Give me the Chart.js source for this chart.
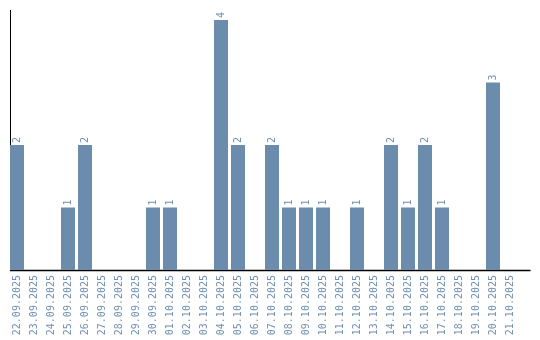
<!DOCTYPE html>
<html>
<head>
<meta charset="utf-8">
<script src="https://cdn.jsdelivr.net/npm/chart.js@4"></script>
<style>
  html, body { margin: 0; padding: 0; background: #fff; }
  #wrap { width: 540px; height: 340px; }
</style>
</head>
<body>
<div id="wrap"><canvas id="dayChart"></canvas></div>
<script>
const days = ["22.09.2025","23.09.2025","24.09.2025","25.09.2025","26.09.2025","27.09.2025","28.09.2025","29.09.2025","30.09.2025","01.10.2025","02.10.2025","03.10.2025","04.10.2025","05.10.2025","06.10.2025","07.10.2025","08.10.2025","09.10.2025","10.10.2025","11.10.2025","12.10.2025","13.10.2025","14.10.2025","15.10.2025","16.10.2025","17.10.2025","18.10.2025","19.10.2025","20.10.2025","21.10.2025"];
const counts = [2,0,0,1,2,0,0,0,1,1,0,0,4,2,0,2,1,1,1,0,1,0,2,1,2,1,0,0,3,0];

const barColor = '#6b8cad';
const textColor = '#6f8fb0';
const monoFont = "'DejaVu Sans Mono', monospace";

// axis lines: y axis sits on the first bar's left edge, x axis runs a bit past the last band
const axisLines = {
  id: 'axisLines',
  beforeDatasetsDraw(chart) {
    const { ctx, chartArea } = chart;
    const x0 = Math.round(chartArea.left + 1.5) + 0.5;
    const y0 = chartArea.bottom;
    ctx.save();
    ctx.strokeStyle = '#000';
    ctx.lineWidth = 1;
    ctx.beginPath();
    ctx.moveTo(x0, chartArea.top);
    ctx.lineTo(x0, y0);
    ctx.stroke();
    ctx.lineWidth = 1.5;
    ctx.beginPath();
    ctx.moveTo(x0 - 0.5, y0 + 0.5);
    ctx.lineTo(chartArea.right + 12, y0 + 0.5);
    ctx.stroke();
    ctx.restore();
  }
};

// draw the value above each non-zero bar, rotated like the axis labels
const valueLabels = {
  id: 'valueLabels',
  afterDatasetsDraw(chart) {
    const ctx = chart.ctx;
    const meta = chart.getDatasetMeta(0);
    ctx.save();
    ctx.fillStyle = textColor;
    ctx.font = "10px " + monoFont;
    ctx.textAlign = 'left';
    ctx.textBaseline = 'middle';
    meta.data.forEach((bar, i) => {
      if (!counts[i]) return;
      ctx.save();
      ctx.translate(bar.x, bar.y - 2);
      ctx.rotate(-Math.PI / 2);
      ctx.fillText(String(counts[i]), 0, 0);
      ctx.restore();
    });
    ctx.restore();
  }
};

new Chart(document.getElementById('dayChart').getContext('2d'), {
  type: 'bar',
  data: {
    labels: days,
    datasets: [{
      data: counts,
      backgroundColor: barColor,
      borderWidth: 0,
      barPercentage: 14 / 17,
      categoryPercentage: 1.0
    }]
  },
  options: {
    responsive: true,
    maintainAspectRatio: false,
    animation: false,
    layout: { padding: { top: 10, left: 8.5, right: 21.5, bottom: 0 } },
    plugins: { legend: { display: false }, tooltip: { enabled: false } },
    scales: {
      x: {
        grid: { display: false, drawTicks: false },
        border: { display: false },
        ticks: {
          color: textColor,
          font: { family: monoFont, size: 10 },
          minRotation: 90,
          maxRotation: 90,
          autoSkip: false,
          padding: 5
        },
        afterFit(s) { s.height = 70; }
      },
      y: {
        min: 0,
        max: 4.16,
        grid: { display: false, drawTicks: false },
        border: { display: false },
        ticks: { display: false },
        afterFit(s) { s.width = 0; }
      }
    }
  },
  plugins: [axisLines, valueLabels]
});
</script>
</body>
</html>
